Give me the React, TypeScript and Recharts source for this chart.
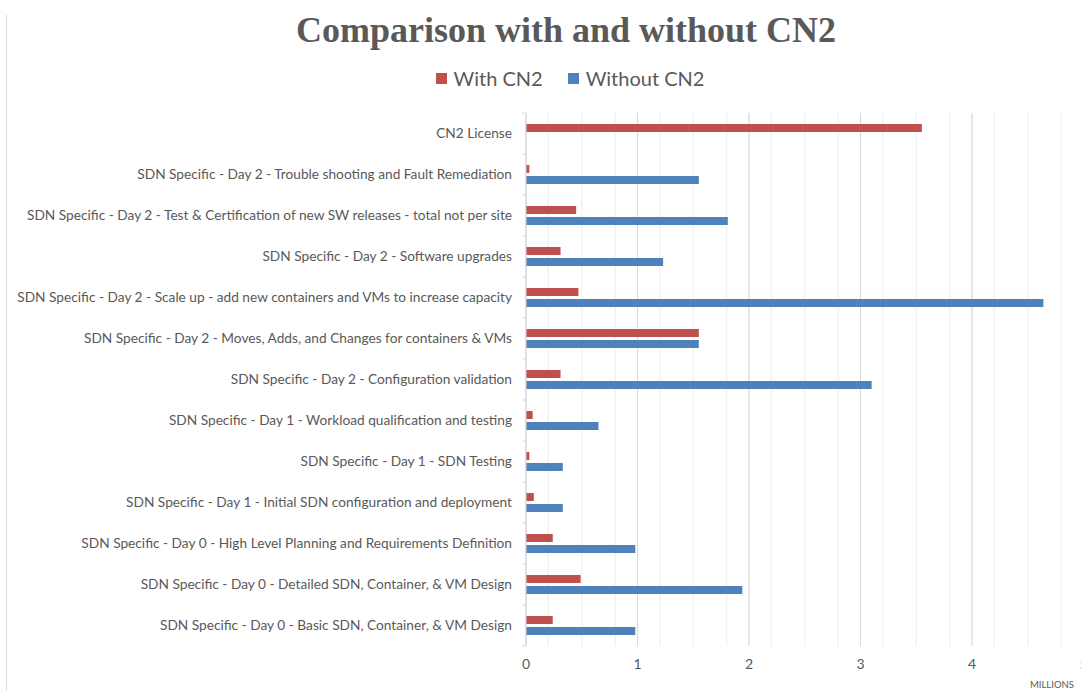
import React from 'react';
import { BarChart, Bar, XAxis, YAxis, CartesianGrid } from 'recharts';

const categories = [
  'CN2 License',
  'SDN Specific - Day 2 - Trouble shooting and Fault Remediation',
  'SDN Specific - Day 2 - Test & Certification of new SW releases - total not per site',
  'SDN Specific - Day 2 - Software upgrades',
  'SDN Specific - Day 2 - Scale up - add new containers and VMs to increase capacity',
  'SDN Specific - Day 2 - Moves, Adds, and Changes for containers & VMs',
  'SDN Specific - Day 2 - Configuration validation',
  'SDN Specific - Day 1 - Workload qualification and testing',
  'SDN Specific - Day 1 - SDN Testing',
  'SDN Specific - Day 1 - Initial SDN configuration and deployment',
  'SDN Specific - Day 0 - High Level Planning and Requirements Definition',
  'SDN Specific - Day 0 - Detailed SDN, Container, & VM Design',
  'SDN Specific - Day 0 - Basic SDN, Container, & VM Design',
];

const withCN2 = [3.55, 0.03, 0.45, 0.31, 0.47, 1.55, 0.31, 0.06, 0.03, 0.07, 0.24, 0.49, 0.24];
const withoutCN2: (number | null)[] = [null, 1.55, 1.81, 1.23, 4.64, 1.55, 3.1, 0.65, 0.33, 0.33, 0.98, 1.94, 0.98];

const xTicks = [0, 1, 2, 3, 4, 5];
const minorGrid = Array.from({ length: 51 }, (_, i) => i / 10);

const seriesNames = ['With CN2', 'Without CN2'];
const seriesColors = ['#C0504D', '#4F81BD'];

const data = categories.map((name, i) => ({
  name,
  withCN2: withCN2[i],
  withoutCN2: withoutCN2[i],
}));

const FONT = 'Lato, "Open Sans", sans-serif';

const YTick = (props: any) => {
  const { x, y, payload, index } = props;
  const half = 20.5;
  return (
    <g>
      <line x1={522} x2={526} y1={y - half} y2={y - half} stroke="#d9d9d9" />
      {index === categories.length - 1 && (
        <line x1={522} x2={526} y1={y + half} y2={y + half} stroke="#d9d9d9" />
      )}
      <text x={x} y={y} dy="0.35em" textAnchor="end" fill="#595959" fontSize={13.7} fontFamily={FONT}>
        {payload.value}
      </text>
    </g>
  );
};

export default function App() {
  return (
    <div
      style={{
        position: 'absolute',
        left: 0,
        top: 0,
        width: 1081,
        height: 691,
        overflow: 'hidden',
        background: '#fff',
      }}
    >
      <div
        style={{
          position: 'absolute',
          left: 6,
          top: 15,
          height: 676,
          borderLeft: '1px solid #d9d9d9',
        }}
      />
      <div
        style={{
          position: 'absolute',
          left: 266,
          width: 600,
          top: 10,
          lineHeight: '40px',
          textAlign: 'center',
          fontFamily: '"Liberation Serif", serif',
          fontWeight: 'bold',
          fontSize: 36,
          color: '#595959',
          whiteSpace: 'nowrap',
        }}
      >
        Comparison with and without CN2
      </div>
      <div
        style={{
          position: 'absolute',
          left: 0,
          width: 1140,
          top: 66,
          display: 'flex',
          justifyContent: 'center',
          fontFamily: FONT,
          fontSize: 20,
          color: '#595959',
          lineHeight: '24px',
        }}
      >
        {seriesNames.map((n, i) => (
          <div key={n} style={{ display: 'flex', alignItems: 'center', marginRight: i === 0 ? 25 : 0 }}>
            <span
              style={{ display: 'inline-block', width: 11, height: 11, background: seriesColors[i], marginRight: 7 }}
            />
            <span>{n}</span>
          </div>
        ))}
      </div>
      <div style={{ position: 'absolute', left: 0, top: 0 }}>
        <BarChart
          width={1100}
          height={691}
          data={data}
          layout="vertical"
          margin={{ top: 113, right: 16.5, bottom: 15, left: 0 }}
          barSize={8}
          barGap={3}
        >
          <CartesianGrid horizontal={false} verticalValues={minorGrid} stroke="#ececec" />
          <CartesianGrid horizontal={false} verticalValues={xTicks} stroke="#d9d9d9" />
          <XAxis
            type="number"
            domain={[0, 5]}
            ticks={xTicks}
            axisLine={false}
            tickLine={false}
            tickSize={0}
            tickMargin={13}
            height={30}
            tick={{ fill: '#595959', fontSize: 14, fontFamily: FONT }}
          />
          <YAxis
            type="category"
            dataKey="name"
            width={526}
            axisLine={{ stroke: '#d9d9d9' }}
            tickLine={false}
            tickSize={0}
            tickMargin={14}
            interval={0}
            tick={<YTick />}
          />
          <Bar dataKey="withCN2" name={seriesNames[0]} fill={seriesColors[0]} isAnimationActive={false} />
          <Bar dataKey="withoutCN2" name={seriesNames[1]} fill={seriesColors[1]} isAnimationActive={false} />
        </BarChart>
      </div>
      <div
        style={{
          position: 'absolute',
          left: 1030,
          top: 679,
          fontFamily: FONT,
          fontSize: 9.5,
          lineHeight: '11px',
          color: '#595959',
          whiteSpace: 'nowrap',
        }}
      >
        MILLIONS
      </div>
    </div>
  );
}
